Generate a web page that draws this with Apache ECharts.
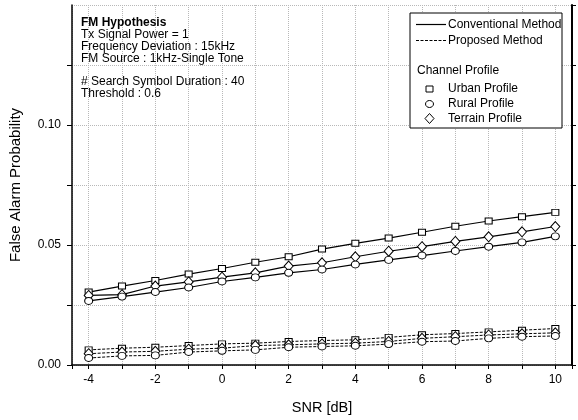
<!DOCTYPE html>
<html>
<head>
<meta charset="utf-8">
<script src="https://cdn.jsdelivr.net/npm/echarts@6/dist/echarts.min.js"></script>
<style>
html,body{margin:0;padding:0;background:#fff;}
#c{width:578px;height:420px;}
</style>
</head>
<body>
<div id="c"></div>
<script>
const snr = [-4,-3,-2,-1,0,1,2,3,4,5,6,7,8,9,10];
const xTickLabels = ['-4','-2','0','2','4','6','8','10'];
const yTickLabels = ['0.00','0.05','0.10'];
const convUrban   = [0.0304,0.0329,0.0352,0.0379,0.0402,0.0428,0.0451,0.0483,0.0507,0.0529,0.0553,0.0578,0.0600,0.0618,0.0636];
const convRural   = [0.0267,0.0285,0.0304,0.0323,0.0348,0.0365,0.0384,0.0398,0.0419,0.0438,0.0456,0.0475,0.0493,0.0511,0.0536];
const convTerrain = [0.0290,0.0293,0.0329,0.0346,0.0366,0.0384,0.0412,0.0426,0.0451,0.0474,0.0493,0.0515,0.0534,0.0555,0.0577];
const propUrban   = [0.0063,0.0070,0.0074,0.0081,0.0088,0.0091,0.0098,0.0102,0.0105,0.0115,0.0126,0.0131,0.0138,0.0145,0.0152];
const propTerrain = [0.0047,0.0054,0.0057,0.0066,0.0070,0.0081,0.0084,0.0088,0.0091,0.0098,0.0111,0.0118,0.0125,0.0130,0.0134];
const propRural   = [0.0029,0.0038,0.0040,0.0054,0.0059,0.0063,0.0074,0.0077,0.0080,0.0087,0.0097,0.0100,0.0111,0.0118,0.0121];
const noteLines = ['FM Hypothesis','Tx Signal Power = 1','Frequency Deviation : 15kHz','FM Source : 1kHz-Single Tone','','# Search Symbol Duration : 40','Threshold : 0.6'];
const legendMethods = ['Conventional Method','Proposed Method'];
const legendProfileTitle = 'Channel Profile';
const legendProfiles = ['Urban Profile','Rural Profile','Terrain Profile'];

const FONT = '"Liberation Sans", Arial, sans-serif';
const chart = echarts.init(document.getElementById('c'), null, {renderer:'canvas'});

const symbols = {
  Urban:   {symbol:'rect', size:[7,6]},
  Rural:   {symbol:'circle', size:[8,7]},
  Terrain: {symbol:'diamond', size:[9,10]}
};
function mkSeries(name, vals, prof, dashed){
  return {
    name: name, type:'line',
    data: snr.map((x,i)=>[x, vals[i]]),
    symbol: symbols[prof].symbol,
    symbolSize: symbols[prof].size,
    showAllSymbol: true,
    lineStyle: {color:'#000', width: dashed ? 1 : 1.2, type: dashed ? [3,1.5] : 'solid'},
    itemStyle: {color:'#fff', borderColor:'#000', borderWidth:1},
    emphasis: {disabled:true},
    animation:false
  };
}

const gridStyle = {show:true, lineStyle:{color:'#b8b8b8', width:1, type:[1,1]}};

// legend graphic
const lg = [];
const bx = 410, by = 13;
lg.push({type:'rect', shape:{x:bx, y:by, width:152, height:115}, style:{fill:'#fff', stroke:'#000', lineWidth:1}, z:100});
lg.push({type:'line', shape:{x1:416,y1:24.5,x2:446,y2:24.5}, style:{stroke:'#000', lineWidth:1.2}, z:101});
lg.push({type:'line', shape:{x1:416,y1:40.5,x2:446,y2:40.5}, style:{stroke:'#000', lineWidth:1, lineDash:[3,1.5]}, z:101});
const txtStyle = (t,x,y)=>({type:'text', x:x, y:y, style:{text:t, fill:'#000', font:'12px '+FONT, textVerticalAlign:'middle', verticalAlign:'middle'}, z:101});
lg.push(txtStyle(legendMethods[0], 448, 24.5));
lg.push(txtStyle(legendMethods[1], 448, 40.5));
lg.push(txtStyle(legendProfileTitle, 417, 71));
lg.push({type:'rect', shape:{x:426, y:86, width:7, height:6}, style:{fill:'#fff', stroke:'#000', lineWidth:1}, z:101});
lg.push({type:'ellipse', shape:{cx:429.5, cy:104, rx:4, ry:3.5}, style:{fill:'#fff', stroke:'#000', lineWidth:1}, z:101});
lg.push({type:'polygon', shape:{points:[[429.5,113.5],[434,118.5],[429.5,123.5],[425,118.5]]}, style:{fill:'#fff', stroke:'#000', lineWidth:1}, z:101});
lg.push(txtStyle(legendProfiles[0], 448, 89));
lg.push(txtStyle(legendProfiles[1], 448, 104));
lg.push(txtStyle(legendProfiles[2], 448, 118.5));

// note text
const noteY = [22.5,34.5,46.5,58.5,70.5,82,93.5];
noteLines.forEach((t,i)=>{
  if(!t) return;
  lg.push({type:'text', x:81, y:noteY[i], style:{text:t, fill:'#000', font:(i===0?'bold ':'')+'12px '+FONT, textVerticalAlign:'middle', verticalAlign:'middle'}, z:100});
});

const option = {
  animation:false,
  backgroundColor:'#fff',
  textStyle:{fontFamily:FONT},
  grid:{left:63, right:6, top:5, bottom:53, containLabel:false},
  xAxis:{
    type:'value', min:-4.5, max:10.5, splitNumber:15,
    name:'SNR [dB]', nameLocation:'middle', nameGap:35,
    nameTextStyle:{fontSize:14.5, color:'#000', fontFamily:FONT},
    axisLine:{show:true, onZero:false, lineStyle:{color:'#000', width:1.5}},
    axisTick:{show:true, inside:false, length:4, lineStyle:{color:'#000', width:1}},
    axisLabel:{color:'#000', fontSize:12, fontFamily:FONT, margin:9,
      showMinLabel:true, showMaxLabel:true,
      formatter:(v)=>{ const s = String(Math.round(v)); return (Math.abs(v-Math.round(v))<1e-6 && xTickLabels.indexOf(s)>=0) ? s : ''; }},
    splitLine:gridStyle
  },
  yAxis:[{
    type:'value', min:0, max:0.15, interval:0.025, position:'left',
    name:'False Alarm Probability', nameLocation:'middle', nameGap:49, nameRotate:90,
    nameTextStyle:{fontSize:15, color:'#000', fontFamily:FONT},
    axisLine:{show:true, onZero:false, lineStyle:{color:'#000', width:1.5}},
    axisTick:{show:true, length:5, lineStyle:{color:'#000', width:1}},
    axisLabel:{color:'#000', fontSize:12, fontFamily:FONT, margin:11, showMaxLabel:false,
      formatter:(v)=>{ const s = v.toFixed(2); return yTickLabels.indexOf(s)>=0 && Math.abs(v*20-Math.round(v*20))<1e-6 ? s : ''; }},
    splitLine:gridStyle
  },{
    type:'value', min:0, max:0.15, interval:0.025, position:'right',
    axisLine:{show:true, onZero:false, lineStyle:{color:'#000', width:2}},
    axisTick:{show:true, length:4, lineStyle:{color:'#000', width:1}},
    axisLabel:{show:false}, splitLine:{show:false}
  }],
  series:[
    mkSeries('Conventional Urban', convUrban, 'Urban', false),
    mkSeries('Conventional Terrain', convTerrain, 'Terrain', false),
    mkSeries('Conventional Rural', convRural, 'Rural', false),
    mkSeries('Proposed Urban', propUrban, 'Urban', true),
    mkSeries('Proposed Terrain', propTerrain, 'Terrain', true),
    mkSeries('Proposed Rural', propRural, 'Rural', true)
  ],
  graphic:lg
};
chart.setOption(option);
</script>
</body>
</html>
